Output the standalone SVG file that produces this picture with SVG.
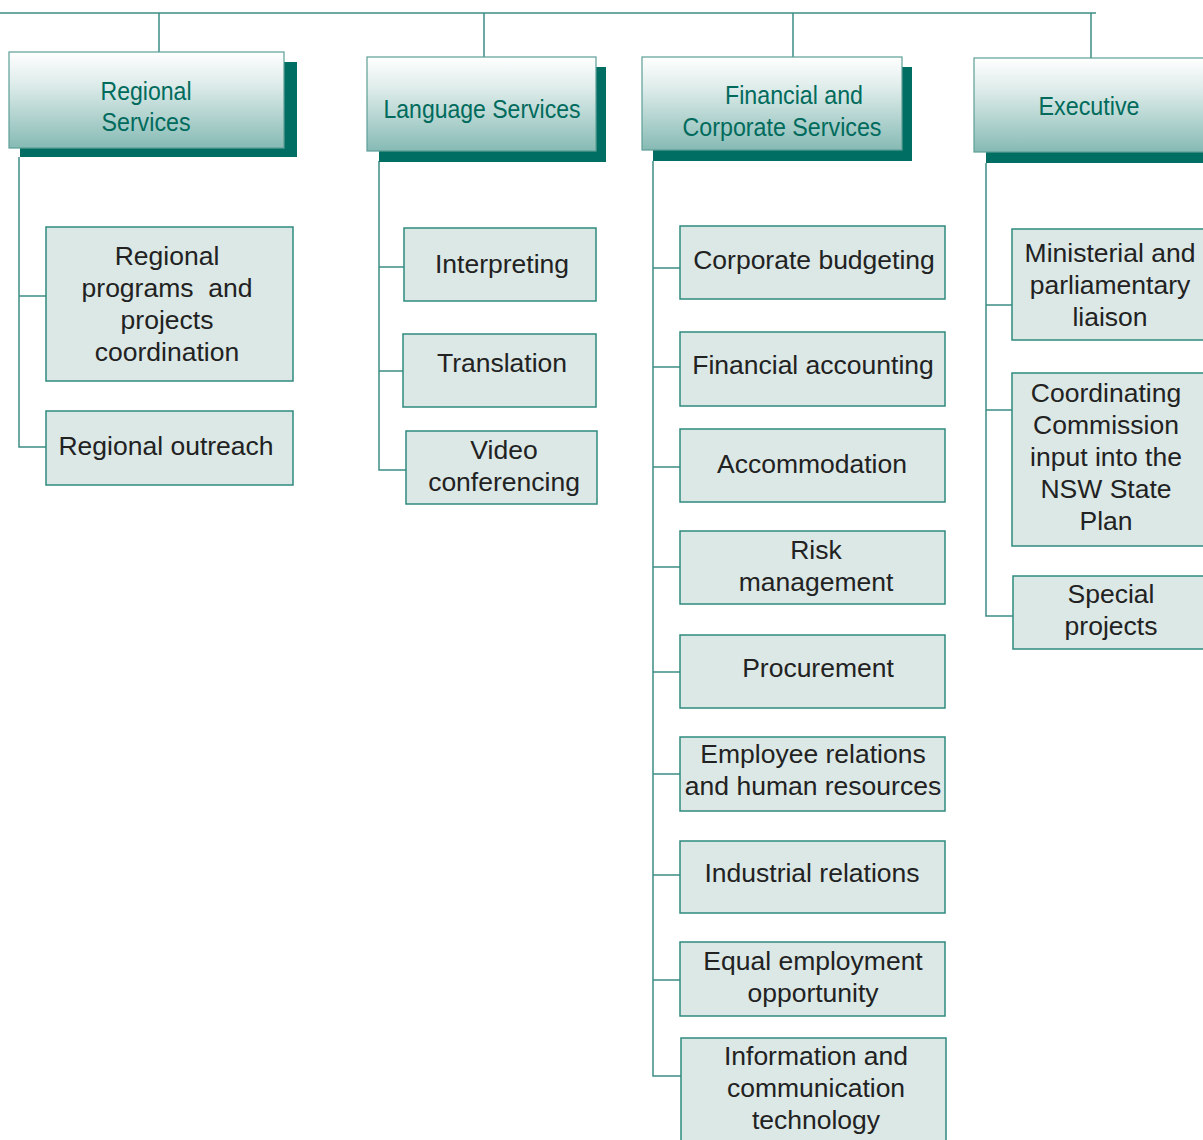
<svg xmlns="http://www.w3.org/2000/svg" width="1203" height="1140" viewBox="0 0 1203 1140">
<defs>
<linearGradient id="hg" x1="0" y1="0" x2="0" y2="1">
<stop offset="0" stop-color="#ffffff"/>
<stop offset="0.35" stop-color="#dcebe9"/>
<stop offset="1" stop-color="#86bab4"/>
</linearGradient>
</defs>
<style>
.ln{stroke:#3d8d84;stroke-width:1.5;fill:none}
.sh{fill:#006e62}
.hd{fill:url(#hg);stroke:#5c9f97;stroke-width:1.2}
.ht{font-family:"Liberation Sans",Arial,sans-serif;font-size:25.5px;fill:#006b5c;text-anchor:middle}
.bx{fill:#dbe8e6;stroke:#2f8a7e;stroke-width:1.5}
.bt{font-family:"Liberation Sans",Arial,sans-serif;font-size:26.5px;fill:#222222;text-anchor:middle}
</style>
<rect width="1203" height="1140" fill="#ffffff"/>
<g id="connectors">
<path class="ln" d="M0 13H1096"/>
<path class="ln" d="M159 13V52M484 13V57M793 13V57M1091 13V58"/>
<path class="ln" d="M19 157V447H46M19 296H46"/>
<path class="ln" d="M379 161V470H406M379 267H404M379 371H403"/>
<path class="ln" d="M653 161V1076H681M653 268H680M653 367H680M653 467H680M653 567H680M653 672H680M653 774H680M653 875H680M653 980H680"/>
<path class="ln" d="M986 163V616H1013M986 305H1012M986 410H1012"/>
</g>
<g id="h-regional">
<rect class="sh" x="20" y="62" width="277" height="95"/>
<rect class="hd" x="9" y="52" width="275" height="96"/>
<text class="ht" x="146" y="100" textLength="91" lengthAdjust="spacingAndGlyphs">Regional</text>
<text class="ht" x="146" y="131" textLength="89" lengthAdjust="spacingAndGlyphs">Services</text>
</g>
<g id="h-language">
<rect class="sh" x="379" y="67" width="227" height="95"/>
<rect class="hd" x="367" y="57" width="229" height="94"/>
<text class="ht" x="482" y="118" textLength="197" lengthAdjust="spacingAndGlyphs">Language Services</text>
</g>
<g id="h-financial">
<rect class="sh" x="653" y="67" width="259" height="94"/>
<rect class="hd" x="642" y="57" width="260" height="93"/>
<text class="ht" x="794" y="104" textLength="138" lengthAdjust="spacingAndGlyphs">Financial and</text>
<text class="ht" x="782" y="136" textLength="199" lengthAdjust="spacingAndGlyphs">Corporate Services</text>
</g>
<g id="h-executive">
<rect class="sh" x="986" y="68" width="230" height="95"/>
<rect class="hd" x="974" y="58" width="240" height="94"/>
<text class="ht" x="1089" y="115" textLength="101" lengthAdjust="spacingAndGlyphs">Executive</text>
</g>
<g id="n-regional-programs">
<rect class="bx" x="46" y="227" width="247" height="154"/>
<text class="bt" x="167" y="265">Regional</text>
<text class="bt" x="167" y="297" xml:space="preserve">programs  and</text>
<text class="bt" x="167" y="329">projects</text>
<text class="bt" x="167" y="361">coordination</text>
</g>
<g id="n-regional-outreach">
<rect class="bx" x="46" y="411" width="247" height="74"/>
<text class="bt" x="166" y="455">Regional outreach</text>
</g>
<g id="n-interpreting">
<rect class="bx" x="404" y="228" width="192" height="73"/>
<text class="bt" x="502" y="273">Interpreting</text>
</g>
<g id="n-translation">
<rect class="bx" x="403" y="334" width="193" height="73"/>
<text class="bt" x="502" y="372">Translation</text>
</g>
<g id="n-video">
<rect class="bx" x="406" y="431" width="191" height="73"/>
<text class="bt" x="504" y="459">Video</text>
<text class="bt" x="504" y="491">conferencing</text>
</g>
<g id="n-corporate-budgeting">
<rect class="bx" x="680" y="226" width="265" height="73"/>
<text class="bt" x="814" y="269">Corporate budgeting</text>
</g>
<g id="n-financial-accounting">
<rect class="bx" x="680" y="332" width="265" height="74"/>
<text class="bt" x="813" y="374">Financial accounting</text>
</g>
<g id="n-accommodation">
<rect class="bx" x="680" y="429" width="265" height="73"/>
<text class="bt" x="812" y="473">Accommodation</text>
</g>
<g id="n-risk">
<rect class="bx" x="680" y="531" width="265" height="73"/>
<text class="bt" x="816" y="559">Risk</text>
<text class="bt" x="816" y="591">management</text>
</g>
<g id="n-procurement">
<rect class="bx" x="680" y="635" width="265" height="73"/>
<text class="bt" x="818" y="677">Procurement</text>
</g>
<g id="n-employee">
<rect class="bx" x="680" y="737" width="265" height="74"/>
<text class="bt" x="813" y="763">Employee relations</text>
<text class="bt" x="813" y="795">and human resources</text>
</g>
<g id="n-industrial">
<rect class="bx" x="680" y="841" width="265" height="72"/>
<text class="bt" x="812" y="882">Industrial relations</text>
</g>
<g id="n-equal">
<rect class="bx" x="680" y="942" width="265" height="74"/>
<text class="bt" x="813" y="970">Equal employment</text>
<text class="bt" x="813" y="1002">opportunity</text>
</g>
<g id="n-ict">
<rect class="bx" x="681" y="1038" width="265" height="110"/>
<text class="bt" x="816" y="1065">Information and</text>
<text class="bt" x="816" y="1097">communication</text>
<text class="bt" x="816" y="1129">technology</text>
</g>
<g id="n-ministerial">
<rect class="bx" x="1012" y="229" width="200" height="111"/>
<text class="bt" x="1110" y="262">Ministerial and</text>
<text class="bt" x="1110" y="294">parliamentary</text>
<text class="bt" x="1110" y="326">liaison</text>
</g>
<g id="n-coordinating">
<rect class="bx" x="1012" y="373" width="200" height="173"/>
<text class="bt" x="1106" y="402">Coordinating</text>
<text class="bt" x="1106" y="434">Commission</text>
<text class="bt" x="1106" y="466">input into the</text>
<text class="bt" x="1106" y="498">NSW State</text>
<text class="bt" x="1106" y="530">Plan</text>
</g>
<g id="n-special">
<rect class="bx" x="1013" y="576" width="200" height="73"/>
<text class="bt" x="1111" y="603">Special</text>
<text class="bt" x="1111" y="635">projects</text>
</g>
</svg>
